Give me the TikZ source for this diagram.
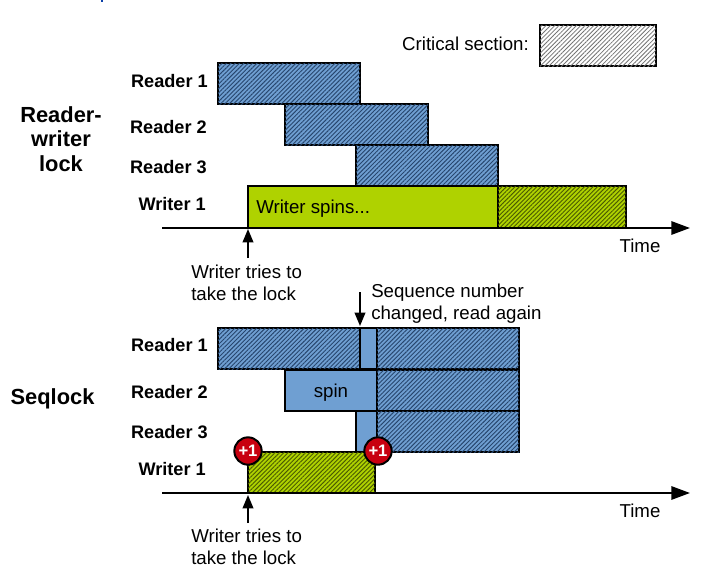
\documentclass[tikz,border=0pt]{standalone}
\usepackage{fontspec}
\setmainfont{Liberation Sans}
\usetikzlibrary{patterns.meta,arrows.meta}
\definecolor{bluefill}{HTML}{6F9FD2}
\definecolor{bluehatch}{HTML}{27466E}
\definecolor{greenfill}{HTML}{AFD200}
\definecolor{greenhatch}{HTML}{4A5A00}
\definecolor{badge}{HTML}{C80010}
\definecolor{stray}{HTML}{0B3FA8}
\tikzset{
  x=0.75pt,y=-0.75pt,
  plainbox/.style={draw=black,line width=1.8pt,line join=miter},
  readcs/.style={plainbox,preaction={fill=bluefill},postaction={pattern={Lines[angle=45,distance=2.3pt,line width=0.7pt]},pattern color=bluehatch}},
  writecs/.style={plainbox,preaction={fill=greenfill},postaction={pattern={Lines[angle=45,distance=2.3pt,line width=0.7pt]},pattern color=greenhatch}},
  legendcs/.style={plainbox,preaction={fill=white},postaction={pattern={Lines[angle=45,distance=2.3pt,line width=0.6pt]},pattern color=black!55}},
  spinblue/.style={plainbox,fill=bluefill},
  spingreen/.style={plainbox,fill=greenfill},
  lab/.style={font=\fontsize{14}{16.5}\selectfont,inner sep=0pt,text=black},
  blab/.style={lab,font=\fontsize{13.6}{16}\selectfont\bfseries},
  head/.style={lab,font=\fontsize{16.4}{18.4}\selectfont\bfseries,align=center},
  note/.style={lab,align=left,anchor=north west},
  axisline/.style={draw=black,line width=1.5pt,-{Triangle[length=14pt,width=10pt]}},
  pointer/.style={draw=black,line width=1.2pt,-{Triangle[length=10pt,width=8pt]}},
  plusone/.style={circle,draw=black,fill=badge,line width=1.5pt,minimum size=20.5pt,inner sep=0pt,text=white,font=\fontsize{12.5}{13}\selectfont\bfseries},
}
\begin{document}
\begin{tikzpicture}
\useasboundingbox (0,0) rectangle (725,576);
\coordinate (st1) at (102,0); \coordinate (st2) at (102,2);
\draw[stray,line width=0.8pt] (st1) -- (st2);
% legend
\node[lab,anchor=east] (legendtxt) at (529,44) {Critical section:};
\path[legendcs] (540,25) rectangle (656,66);
% upper panel
\node[head] (rw) at (61,139) {Reader-\\writer\\lock};
\node[blab,anchor=east] (ra) at (208,81) {Reader 1};
\node[blab,anchor=east] (rb) at (207,127) {Reader 2};
\node[blab,anchor=east] (rc) at (207,167) {Reader 3};
\node[blab,anchor=east] (wa) at (206,204) {Writer 1};
\path[readcs] (218,63) rectangle (360,104);
\path[readcs] (285,104) rectangle (428,145);
\path[readcs] (356,145) rectangle (498,186);
\path[spingreen] (248,186) rectangle (498,228);
\path[writecs] (498,186) rectangle (626,228);
\node[lab,anchor=west] (spins) at (256,209) {Writer spins...};
\coordinate (ax1s) at (162,228); \coordinate (ax1e) at (690,228);
\draw[axisline] (ax1s) -- (ax1e);
\node[lab] (time1) at (640,246) {Time};
\node[note] (try1) at (191,265) {Writer tries to\\take the lock};
\coordinate (p1s) at (248,258); \coordinate (p1e) at (248,229);
\draw[pointer] (p1s) -- (p1e);
% lower panel
\node[head] (seq) at (52.5,399) {Seqlock};
\node[blab,anchor=east] (rd) at (208,345) {Reader 1};
\node[blab,anchor=east] (re) at (208,392) {Reader 2};
\node[blab,anchor=east] (rf) at (208,432) {Reader 3};
\node[blab,anchor=east] (wb) at (206,469) {Writer 1};
\path[readcs] (218,328) rectangle (360,369);
\path[spinblue] (360,328) rectangle (377,369);
\path[readcs] (377,328) rectangle (519,369);
\path[spinblue] (285,370) rectangle (377,411);
\path[readcs] (377,370) rectangle (519,411);
\path[spinblue] (356,411) rectangle (377,452);
\path[readcs] (377,411) rectangle (519,452);
\path[writecs] (248,452) rectangle (375,493);
\node[lab] (spin) at (331,393) {spin};
\coordinate (ax2s) at (162,493); \coordinate (ax2e) at (690,493);
\draw[axisline] (ax2s) -- (ax2e);
\node[lab] (time2) at (640,511) {Time};
\node[plusone] (p1) at (248,451) {+1};
\node[plusone] (p2) at (378,451) {+1};
\node[note] (seqn) at (371,284) {Sequence number\\changed, read again};
\coordinate (p2s) at (360,292); \coordinate (p2e) at (360,326);
\draw[pointer] (p2s) -- (p2e);
\node[note] (try2) at (191,529) {Writer tries to\\take the lock};
\coordinate (p3s) at (248,523); \coordinate (p3e) at (248,495);
\draw[pointer] (p3s) -- (p3e);
\end{tikzpicture}
\end{document}
